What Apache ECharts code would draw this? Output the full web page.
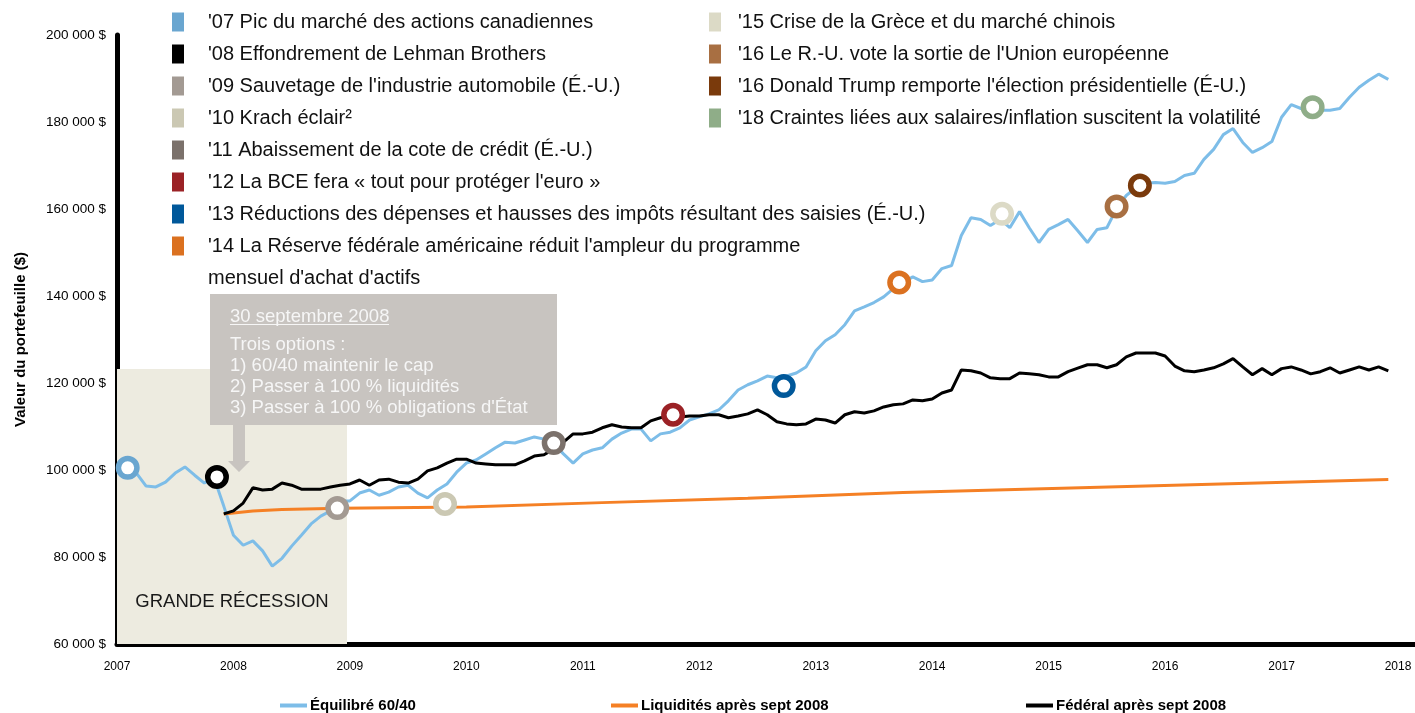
<!DOCTYPE html>
<html>
<head>
<meta charset="utf-8">
<script src="https://cdn.jsdelivr.net/npm/echarts@6/dist/echarts.min.js"></script>
<style>
  html, body { margin: 0; padding: 0; background: #fff; }
  #chart { width: 1415px; height: 713px; }
</style>
</head>
<body>
<div id="chart"></div>
<script>
// x axis counts months from the "2007" tick, one label every 12 months
var yearLabels = ['2007', '2008', '2009', '2010', '2011', '2012', '2013', '2014', '2015', '2016', '2017', '2018'];

// Équilibré 60/40, monthly, first value at month 1
var balancedStart = 1;
var balanced = [
  100500, 99300, 96300, 96100, 97200, 99300, 100700, 98800, 97000, 98200,
  91700, 85000, 82700, 83700, 81400, 77900, 79700, 82500, 85000, 87600,
  89400, 90600, 92900, 92900, 94700, 95400, 94200, 94900, 96100, 96500,
  94700, 93600, 95400, 96800, 99500, 101600, 102300, 103700, 105100, 106400,
  106200, 106900, 107600, 107100, 106000, 103700, 101600, 103700, 104600, 105100,
  107100, 108500, 109400, 109400, 106700, 108300, 108700, 109700, 111500, 112200,
  112900, 113800, 115900, 118400, 119600, 120500, 121600, 121200, 121600, 122300,
  123700, 127400, 129700, 131100, 133400, 136600, 137500, 138500, 139800, 141700,
  143100, 144400, 143300, 143700, 146300, 147000, 153900, 158000, 157600, 156200,
  157600, 155700, 159400, 155700, 152300, 155300, 156400, 157600, 155000, 152300,
  155300, 155700, 160100, 163100, 164900, 165900, 166100, 165900, 166300, 167700,
  168200, 171400, 173700, 177100, 178500, 175300, 173000, 174100, 175500, 181100,
  184000, 183100, 183400, 182700, 182700, 183100, 185700, 188000, 189600, 191000,
  189800
];

// Fédéral après sept 2008, monthly, first value at month 11
var federalStart = 11;
var federal = [
  89900, 90600, 92400, 95900, 95400, 95600, 97000, 96500, 95600, 95600,
  95600, 96100, 96500, 96800, 97700, 96500, 97700, 97900, 97200, 97000,
  97900, 99800, 100500, 101600, 102500, 102500, 101600, 101400, 101200, 101200,
  101200, 102100, 103200, 103500, 104800, 106400, 108300, 108300, 108700, 109700,
  110400, 109900, 109700, 109700, 111300, 112000, 112400, 112200, 112400, 112400,
  112700, 112700, 112000, 112400, 112900, 113800, 112700, 111100, 110600, 110400,
  110600, 111700, 111500, 110800, 112700, 113400, 113100, 113600, 114500, 115000,
  115200, 116100, 115900, 116300, 117700, 118400, 123000, 122800, 122300, 121200,
  121000, 121000, 122300, 122100, 121900, 121400, 121400, 122600, 123400, 124200,
  124200, 123500, 124200, 126000, 126900, 126900, 126900, 126200, 123900, 122800,
  122600, 123000, 123500, 124400, 125600, 123700, 121900, 123300, 121900, 123300,
  123700, 123000, 122100, 122600, 123500, 122300, 123000, 123700, 123000, 123700,
  122800
];

// Liquidités après sept 2008
var cashMonths = [11, 14, 17, 23, 36, 50, 65, 81, 106, 131];
var cashValues = [89900, 90600, 90900, 91200, 91500, 92500, 93500, 94800, 96300, 97800];

// market events
var eventNames = [
  "'07 Pic du marché des actions canadiennes",
  "'08 Effondrement de Lehman Brothers",
  "'09 Sauvetage de l'industrie automobile (É.-U.)",
  "'10 Krach éclair²",
  "'11 Abaissement de la cote de crédit (É.-U.)",
  "'12 La BCE fera « tout pour protéger l'euro »",
  "'13 Réductions des dépenses et hausses des impôts résultant des saisies (É.-U.)",
  "'14 La Réserve fédérale américaine réduit l'ampleur du programme",
  "'15 Crise de la Grèce et du marché chinois",
  "'16 Le R.-U. vote la sortie de l'Union européenne",
  "'16 Donald Trump remporte l'élection présidentielle (É-U.)",
  "'18 Craintes liées aux salaires/inflation suscitent la volatilité"
];
var eventMonths = [1.1, 10.3, 22.7, 33.8, 45.0, 57.3, 68.7, 80.6, 91.2, 103.0, 105.4, 123.2];
var eventValues = [100500, 98400, 91250, 92200, 106200, 112700, 119300, 143100, 158900, 160600, 165400, 183400];
var eventColors = ['#6aa6d0', '#000000', '#a39a93', '#cbc8b3', '#7b716b', '#9b2226',
                   '#00589a', '#db7120', '#dcdac6', '#a86f42', '#7a3a0c', '#8fad88'];

var recessionMonths = [0, 23.7];
var recessionTop = 123200;

var FONT = "'Liberation Sans', Arial, sans-serif";

var chartDom = document.getElementById('chart');
var myChart = echarts.init(chartDom, null, { renderer: 'canvas' });

function toPairs(start, arr) {
  return arr.map(function (v, i) { return [start + i, v]; });
}

var series = [
  {
    name: 'Équilibré 60/40',
    type: 'line',
    data: toPairs(balancedStart, balanced),
    symbol: 'none',
    lineStyle: { color: '#7dbde8', width: 3 },
    itemStyle: { color: '#7dbde8' },
    z: 3,
    markArea: {
      silent: true,
      itemStyle: { color: '#edebe0' },
      label: {
        position: 'insideBottom',
        distance: 33,
        color: '#1a1a1a',
        fontSize: 18.5,
        fontFamily: FONT
      },
      data: [[
        { name: 'GRANDE RÉCESSION', xAxis: recessionMonths[0], yAxis: 60000 },
        { xAxis: recessionMonths[1], yAxis: recessionTop }
      ]]
    }
  },
  {
    name: 'Liquidités après sept 2008',
    type: 'line',
    data: cashMonths.map(function (m, i) { return [m, cashValues[i]]; }),
    symbol: 'none',
    lineStyle: { color: '#f58025', width: 3 },
    itemStyle: { color: '#f58025' },
    z: 3
  },
  {
    name: 'Fédéral après sept 2008',
    type: 'line',
    data: toPairs(federalStart, federal),
    symbol: 'none',
    lineStyle: { color: '#000', width: 3 },
    itemStyle: { color: '#000' },
    z: 4
  }
];

eventNames.forEach(function (name, i) {
  series.push({
    name: name,
    type: 'scatter',
    data: [[eventMonths[i], eventValues[i]]],
    symbol: 'circle',
    symbolSize: 18.5,
    itemStyle: { color: '#fff', borderColor: eventColors[i], borderWidth: 5.5, opacity: 1 },
    z: 10
  });
});

function eventLegendData(from, to) {
  var out = [];
  for (var i = from; i < to; i++) {
    out.push({
      name: eventNames[i],
      icon: 'rect',
      itemStyle: { color: eventColors[i], borderColor: eventColors[i], borderWidth: 0 }
    });
  }
  return out;
}

function lineLegend(name, color, left) {
  return {
    data: [{ name: name, icon: 'rect', itemStyle: { color: color, borderWidth: 0 } }],
    left: left,
    top: 698,
    padding: 0,
    itemWidth: 27,
    itemHeight: 4,
    selectedMode: false,
    textStyle: { fontFamily: FONT, fontSize: 15, fontWeight: 'bold', color: '#000', padding: [0, 0, 0, -2] }
  };
}

var option = {
  animation: false,
  backgroundColor: '#fff',
  textStyle: { fontFamily: FONT },
  grid: { left: 117, right: 0, top: 35, bottom: 69, outerBoundsMode: 'none' },
  xAxis: {
    type: 'value',
    min: 0,
    max: 133.75,
    interval: 12,
    axisLine: { show: true, lineStyle: { color: '#000', width: 5 } },
    axisTick: { show: false },
    splitLine: { show: false },
    axisLabel: {
      margin: 17,
      color: '#000',
      fontSize: 12,
      fontFamily: FONT,
      showMaxLabel: false,
      formatter: function (v) {
        return v % 12 === 0 ? yearLabels[v / 12] : '';
      }
    }
  },
  yAxis: {
    type: 'value',
    min: 60000,
    max: 200000,
    interval: 20000,
    name: 'Valeur du portefeuille ($)',
    nameLocation: 'middle',
    nameRotate: 90,
    nameGap: 89,
    nameTextStyle: { fontFamily: FONT, fontSize: 15, fontWeight: 'bold', color: '#000' },
    axisLine: { show: true, lineStyle: { color: '#000', width: 5 } },
    axisTick: { show: false },
    splitLine: { show: false },
    axisLabel: {
      margin: 11,
      color: '#000',
      fontSize: 13.5,
      fontFamily: FONT,
      formatter: function (v) { return (v / 1000) + ' 000 $'; }
    }
  },
  legend: [
    {
      data: eventLegendData(0, 8),
      orient: 'vertical',
      left: 172,
      top: 12,
      padding: 0,
      itemWidth: 12,
      itemHeight: 19,
      itemGap: 12,
      selectedMode: false,
      textStyle: { fontFamily: FONT, fontSize: 20, color: '#111', padding: [0, 0, 0, 19] }
    },
    {
      data: eventLegendData(8, 12),
      orient: 'vertical',
      left: 709,
      top: 12,
      padding: 0,
      itemWidth: 12,
      itemHeight: 19,
      itemGap: 12,
      selectedMode: false,
      textStyle: { fontFamily: FONT, fontSize: 20, color: '#111', padding: [0, 0, 0, 12] }
    },
    lineLegend('Équilibré 60/40', '#7dbde8', 280),
    lineLegend('Liquidités après sept 2008', '#f58025', 611),
    lineLegend('Fédéral après sept 2008', '#000', 1026)
  ],
  graphic: [
    {
      type: 'text',
      x: 208,
      y: 268,
      style: { text: "mensuel d'achat d'actifs", font: '20px ' + FONT, fill: '#111' }
    },
    {
      type: 'rect',
      shape: { x: 210, y: 294, width: 347, height: 131 },
      style: { fill: '#c8c4c0' },
      z: 20
    },
    {
      type: 'polygon',
      shape: { points: [[233, 424], [245, 424], [245, 461], [250, 461], [239, 472], [228, 461], [233, 461]] },
      style: { fill: '#c8c4c0' },
      z: 20
    },
    {
      type: 'text',
      x: 230,
      y: 307,
      style: { text: '30 septembre 2008', font: '18.5px ' + FONT, fill: '#f6f6f6' },
      z: 21
    },
    {
      type: 'line',
      shape: { x1: 230, y1: 324.5, x2: 389, y2: 324.5 },
      style: { stroke: '#f6f6f6', lineWidth: 1 },
      z: 21
    },
    {
      type: 'text',
      x: 230,
      y: 334.5,
      style: {
        text: "Trois options :\n1) 60/40 maintenir le cap\n2) Passer à 100 % liquidités\n3) Passer à 100 % obligations d'État",
        font: '18.5px ' + FONT,
        lineHeight: 21,
        fill: '#f6f6f6'
      },
      z: 21
    }
  ],
  series: series
};

option && myChart.setOption(option);
</script>
</body>
</html>
